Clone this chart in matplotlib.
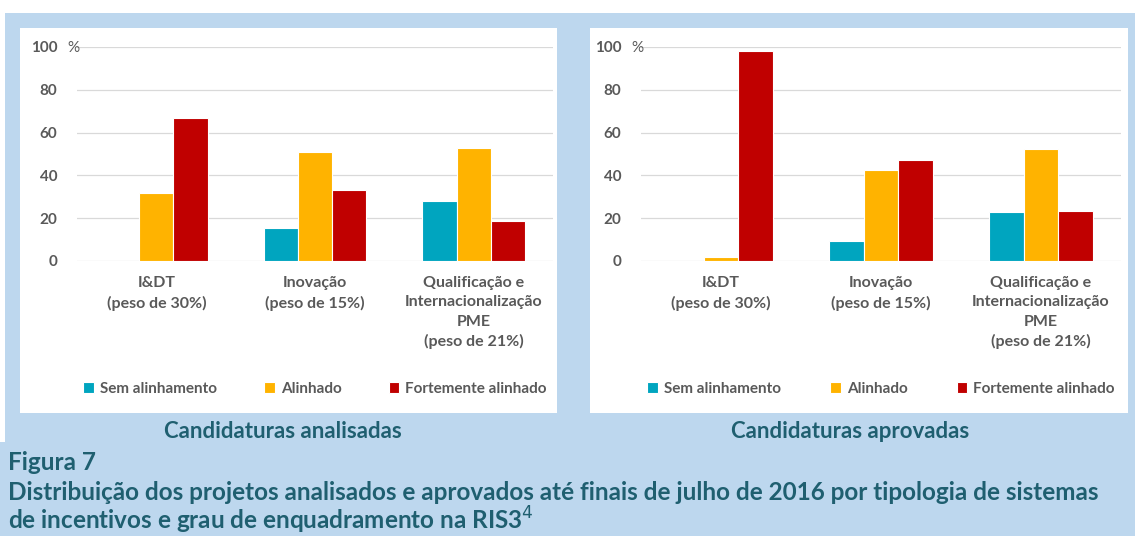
import matplotlib
matplotlib.use("Agg")
import matplotlib.pyplot as plt
from matplotlib.patches import Rectangle
import numpy as np

categories = ["I&DT\n(peso de 30%)", "Inovação\n(peso de 15%)",
              "Qualificação e\nInternacionalização\nPME\n(peso de 21%)"]
series = ["Sem alinhamento", "Alinhado", "Fortemente alinhado"]
colors = ["#00A5BF", "#FFB300", "#C00000"]

analisadas_sem = [0, 15.5, 28]
analisadas_alinhado = [32, 51, 53]
analisadas_forte = [67, 33, 18.5]

aprovadas_sem = [0, 9.5, 23]
aprovadas_alinhado = [2, 42.5, 52.5]
aprovadas_forte = [98, 47, 23.5]

yticks = [0, 20, 40, 60, 80, 100]

BG = "#BDD7EE"
GRAY = "#595959"
TEAL = "#1F5F70"
FONT = ["Lato", "DejaVu Sans"]
plt.rcParams["font.family"] = FONT

W, H = 1135, 536
fig = plt.figure(figsize=(W / 100, H / 100), dpi=100)
fig.patch.set_facecolor(BG)


def px_rect(x0, y0, x1, y1, color):
    fig.patches.append(Rectangle((x0 / W, 1 - y1 / H), (x1 - x0) / W, (y1 - y0) / H,
                                 transform=fig.transFigure, facecolor=color,
                                 edgecolor="none", zorder=-5))


px_rect(0, 0, W, 13, "white")
px_rect(0, 13, 5, 442, "white")
px_rect(20, 28, 557, 413, "white")
px_rect(590, 28, 1128, 413, "white")


def panel(x0, x1, data):
    ax = fig.add_axes([x0 / W, 1 - 261 / H, (x1 - x0) / W, 214 / H])
    ax.set_facecolor("none")
    x = np.arange(len(categories))
    width = 0.215
    for i, (vals, c, name) in enumerate(zip(data, colors, series)):
        ax.bar(x + (i - 1) * width, vals, width, color=c, edgecolor="white",
               linewidth=0.8, label=name, zorder=3)
    ax.set_xlim(-0.5, 2.5)
    ax.set_ylim(0, 100)
    ax.set_yticks(yticks)
    ax.set_yticklabels([str(t) for t in yticks], fontsize=11, fontweight="bold", color=GRAY)
    ax.set_xticks(x)
    ax.set_xticklabels(categories, fontsize=11.5, fontweight="bold", color=GRAY,
                       linespacing=1.47)
    ax.tick_params(axis="y", length=0, pad=14)
    ax.tick_params(axis="x", length=0, pad=11)
    ax.grid(axis="y", color="#D9D9D9", linewidth=0.9, zorder=0)
    for s in ax.spines.values():
        s.set_visible(False)
    ax.text(-0.02, 0.995, "%", transform=ax.transAxes, fontsize=11, color=GRAY,
            va="center", ha="left")
    ax.legend(loc="lower left", bbox_to_anchor=(0.0, -0.66, 1.0, 0.1), mode="expand",
              ncol=3, frameon=False, handlelength=0.7, handleheight=0.7,
              handletextpad=0.4, prop={"family": FONT, "weight": "bold", "size": 11},
              labelcolor=GRAY, borderaxespad=0)
    return ax


panel(77, 553, [analisadas_sem, analisadas_alinhado, analisadas_forte])
panel(641, 1121, [aprovadas_sem, aprovadas_alinhado, aprovadas_forte])

fig.text(283 / W, 1 - 431 / H, "Candidaturas analisadas", ha="center", va="center",
         fontsize=16, fontweight="bold", color=TEAL)
fig.text(850 / W, 1 - 431 / H, "Candidaturas aprovadas", ha="center", va="center",
         fontsize=16, fontweight="bold", color=TEAL)
fig.text(8 / W, 1 - 462 / H, "Figura 7", ha="left", va="center",
         fontsize=17.5, fontweight="bold", color=TEAL)
fig.text(8 / W, 1 - 492 / H,
         "Distribuição dos projetos analisados e aprovados até finais de julho de 2016 "
         "por tipologia de sistemas", ha="left", va="center",
         fontsize=17.5, fontweight="bold", color=TEAL)
fig.text(8 / W, 1 - 520 / H, "de incentivos e grau de enquadramento na RIS3$^{4}$",
         ha="left", va="center", fontsize=17.5, fontweight="bold", color=TEAL)

fig.savefig("out.png", dpi=100, facecolor=BG)
